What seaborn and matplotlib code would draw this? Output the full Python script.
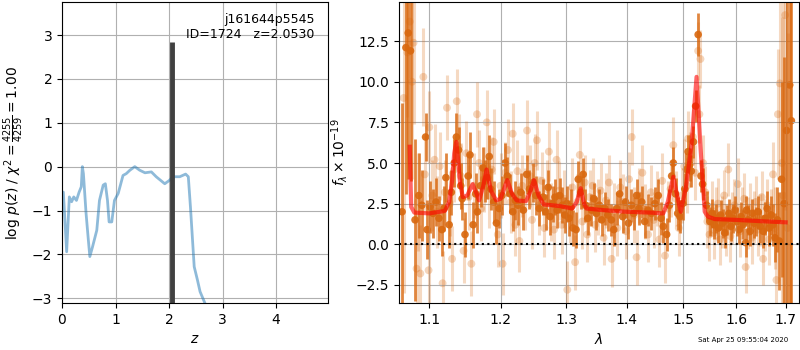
import numpy as np
import pandas as pd
import matplotlib
matplotlib.use("Agg")
import matplotlib.pyplot as plt
from matplotlib.ticker import NullLocator
import seaborn as sns

# p(z) curve
pz_z = [0.0, 0.025, 0.087, 0.137, 0.18, 0.22, 0.27, 0.32, 0.36, 0.38, 0.40, 0.45, 0.49,
        0.52, 0.57, 0.65, 0.70, 0.77, 0.81, 0.85, 0.88, 0.93, 0.98, 1.05, 1.14, 1.20,
        1.27, 1.36, 1.45, 1.55, 1.67, 1.76, 1.92, 2.01, 2.07, 2.20, 2.31, 2.36, 2.40,
        2.47, 2.53, 2.58, 2.67]
pz_logp = [-0.6, -0.58, -1.94, -0.69, -0.8, -0.69, -0.77, -0.58, -0.46, 0.0, -0.16, -1.07,
           -1.64, -2.05, -1.83, -1.45, -0.77, -0.42, -0.39, -0.77, -1.26, -1.26, -0.77,
           -0.61, -0.2, -0.16, -0.08, 0.0, -0.08, -0.14, -0.12, -0.23, -0.39, -0.31, -0.23,
           -0.23, -0.17, -0.23, -0.92, -2.28, -2.58, -2.85, -3.11]
z_best = 2.0530
chi2_label = r"log $p(z)$ / $\chi^2=\frac{4255}{4259}=1.00$"
title_text = "j161644p5545\nID=1724   z=2.0530"

# model spectrum
model_wave = [1.074, 1.0759, 1.080, 1.100, 1.121, 1.127, 1.131, 1.134, 1.1368, 1.139, 1.142,
              1.146, 1.152, 1.1598, 1.169, 1.175, 1.1797, 1.186, 1.1936, 1.200, 1.2099,
              1.217, 1.224, 1.238, 1.244, 1.250, 1.257, 1.265, 1.290, 1.310, 1.317, 1.3234,
              1.329, 1.333, 1.360, 1.400, 1.440, 1.464, 1.472, 1.482, 1.489, 1.4955, 1.505,
              1.515, 1.5247, 1.532, 1.540, 1.546, 1.559, 1.600, 1.650, 1.700]
model_flux = [6.0, 2.3, 1.95, 1.9, 2.05, 2.6, 3.9, 5.6, 6.3, 5.4, 3.8,
              2.9, 3.0, 3.7, 2.7, 3.6, 4.6, 3.3, 2.7, 2.8, 3.95,
              3.1, 2.7, 2.65, 3.2, 3.95, 3.0, 2.45, 2.35, 2.2, 2.6, 3.45,
              2.5, 2.2, 2.1, 2.0, 1.95, 1.9, 2.6, 4.15, 3.0, 2.0, 3.5,
              6.0, 10.3, 6.0, 2.0, 1.7, 1.55, 1.5, 1.42, 1.35]

# spectrum, higher weight points (rows of 11)
wave_dark = [1.064, 1.069, 1.072, 1.075, 1.081, 1.086, 1.090, 1.095, 1.097, 1.101, 1.105,
             1.109, 1.113, 1.117, 1.120, 1.1225, 1.127, 1.130, 1.134, 1.137, 1.140, 1.143,
             1.145, 1.149, 1.1535, 1.156, 1.1605, 1.164, 1.1666, 1.171, 1.1745, 1.178, 1.181,
             1.1836, 1.1856, 1.190, 1.194, 1.198, 1.202, 1.2065, 1.210, 1.214, 1.218, 1.222,
             1.226, 1.230, 1.234, 1.239, 1.243, 1.249, 1.253, 1.258, 1.264, 1.268, 1.272,
             1.275, 1.279, 1.2825, 1.286, 1.290, 1.294, 1.298, 1.301, 1.305, 1.308, 1.311,
             1.316, 1.3195, 1.3235, 1.3275, 1.331, 1.335, 1.341, 1.345, 1.349, 1.354, 1.358,
             1.363, 1.368, 1.374, 1.378, 1.383, 1.388, 1.393, 1.398, 1.403, 1.408, 1.412,
             1.417, 1.421, 1.426, 1.431, 1.437, 1.443, 1.449, 1.455, 1.460, 1.464, 1.470,
             1.475, 1.479, 1.482, 1.486, 1.490, 1.494, 1.499, 1.503, 1.506, 1.509, 1.512,
             1.515, 1.519, 1.523, 1.5277, 1.533, 1.536, 1.5435, 1.5496, 1.554, 1.558, 1.562,
             1.566, 1.570, 1.574, 1.578, 1.582, 1.586, 1.590, 1.594, 1.598, 1.602, 1.606,
             1.610, 1.614, 1.619, 1.6206, 1.624, 1.628, 1.632, 1.636, 1.640, 1.644, 1.648,
             1.654, 1.658, 1.662, 1.666, 1.670, 1.674, 1.678, 1.683, 1.687, 1.6916, 1.697,
             1.702, 1.7085, 1.712]
flux_dark = [2.0, 12.1, 13.0, 11.9, 1.5, 3.0, 2.4, 6.6, 0.9, 2.3, 1.9,
             2.6, 1.6, 0.9, 2.2, 4.1, 1.2, 3.2, 5.0, 6.6, 5.8, 3.6,
             2.8, 0.6, 4.2, 5.5, 1.2, 3.1, 2.0, 3.6, 4.7, 3.9, 4.1,
             5.4, 3.4, 2.6, 1.3, 2.2, 3.0, 5.0, 4.2, 3.1, 2.0, 2.7,
             2.4, 3.2, 2.1, 4.3, 3.4, 3.8, 3.0, 2.2, 2.9, 2.0, 3.5,
             1.7, 2.5, 2.9, 2.1, 3.0, 2.4, 1.8, 2.5, 1.6, 2.3, 1.0,
             0.9, 4.0, 3.2, 4.3, 2.4, 1.6, 2.1, 2.8, 1.9, 2.4, 1.5,
             2.2, 1.8, 1.5, 0.9, 2.2, 3.1, 1.7, 2.6, 1.3, 2.4, 1.9,
             3.0, 2.2, 2.6, 1.4, 2.1, 1.9, 2.5, 3.0, 1.6, 1.1, 0.6,
             2.4, 4.2, 5.0, 3.1, 1.9, 1.7, 2.5, 3.4, 4.6, 5.7, 4.9,
             4.5, 6.3, 8.5, 12.9, 4.2, 3.7, 2.4, 1.4, 1.9, 1.2, 1.6,
             1.0, 1.8, 1.3, 0.7, 1.5, 1.9, 1.1, 1.6, 2.1, 1.4, 0.9,
             1.7, 1.2, 0.1, 2.1, 1.5, 0.8, 1.9, 1.3, 1.4, 2.0, 1.1,
             0.8, 1.6, 2.2, 1.0, 1.8, 1.2, 0.4, 1.5, 0.2, 4.0, 2.5,
             7.0, 9.8, 7.6]
err_dark = [6.7, 9.0, 9.0, 8.0, 5.0, 2.6, 2.2, 1.5, 1.8, 1.6, 1.5,
            1.5, 1.4, 1.6, 1.4, 1.5, 1.4, 1.4, 1.5, 1.5, 1.4, 1.4,
            1.3, 1.4, 1.4, 1.4, 1.4, 1.3, 1.3, 1.3, 1.3, 1.3, 1.3,
            1.3, 1.3, 1.3, 1.3, 1.2, 1.2, 1.2, 1.2, 1.2, 1.2, 1.2,
            1.2, 1.2, 1.2, 1.2, 1.2, 1.2, 1.2, 1.1, 1.1, 1.1, 1.1,
            1.1, 1.1, 1.1, 1.1, 1.1, 1.1, 1.1, 1.1, 1.1, 1.1, 1.1,
            1.1, 1.1, 1.0, 1.0, 1.0, 1.0, 1.0, 1.0, 1.0, 1.0, 1.0,
            1.0, 1.0, 1.0, 1.0, 1.0, 1.0, 1.0, 1.0, 1.0, 1.0, 1.0,
            1.0, 1.0, 1.0, 1.0, 1.0, 1.0, 1.0, 1.0, 1.0, 1.0, 1.0,
            1.0, 1.0, 1.0, 1.0, 1.0, 1.0, 1.0, 1.0, 1.0, 1.0, 1.0,
            1.0, 1.0, 1.0, 1.3, 1.0, 1.0, 0.9, 0.9, 0.9, 0.9, 0.9,
            0.9, 0.9, 0.9, 0.9, 0.9, 0.9, 0.9, 0.9, 0.9, 0.9, 0.9,
            0.9, 0.9, 0.9, 0.9, 0.9, 0.9, 0.9, 0.9, 0.9, 1.0, 1.0,
            1.0, 1.0, 1.1, 1.1, 1.2, 1.3, 1.5, 2.0, 3.0, 6.0, 9.0,
            14.0, 14.0, 12.0]

# spectrum, lower weight points (rows of 11)
wave_light = [1.066, 1.071, 1.074, 1.077, 1.079, 1.083, 1.085, 1.088, 1.092, 1.094, 1.099,
              1.100, 1.104, 1.107, 1.111, 1.114, 1.118, 1.121, 1.124, 1.128, 1.131, 1.134,
              1.1375, 1.140, 1.143, 1.147, 1.151, 1.154, 1.158, 1.162, 1.166, 1.169, 1.172,
              1.176, 1.180, 1.183, 1.187, 1.190, 1.196, 1.200, 1.203, 1.207, 1.211, 1.215,
              1.218, 1.222, 1.225, 1.228, 1.232, 1.236, 1.2395, 1.244, 1.247, 1.251, 1.2545,
              1.258, 1.262, 1.266, 1.270, 1.273, 1.277, 1.281, 1.285, 1.289, 1.293, 1.297,
              1.302, 1.306, 1.310, 1.3145, 1.318, 1.322, 1.326, 1.330, 1.334, 1.338, 1.343,
              1.347, 1.351, 1.356, 1.361, 1.365, 1.370, 1.3745, 1.379, 1.384, 1.389, 1.394,
              1.399, 1.404, 1.4085, 1.413, 1.417, 1.422, 1.427, 1.432, 1.437, 1.442, 1.447,
              1.452, 1.457, 1.462, 1.467, 1.472, 1.477, 1.482, 1.487, 1.492, 1.497, 1.502,
              1.507, 1.509, 1.513, 1.518, 1.522, 1.5277, 1.530, 1.532, 1.537, 1.541, 1.545,
              1.549, 1.553, 1.557, 1.561, 1.565, 1.569, 1.573, 1.577, 1.581, 1.585, 1.589,
              1.593, 1.597, 1.6035, 1.608, 1.612, 1.616, 1.619, 1.623, 1.627, 1.631, 1.635,
              1.639, 1.643, 1.647, 1.651, 1.654, 1.658, 1.662, 1.666, 1.670, 1.674, 1.678,
              1.681, 1.684, 1.688, 1.692, 1.695, 1.699, 1.704]
flux_light = [9.0, 11.8, 13.7, 10.0, 12.4, -1.5, 2.6, -1.8, 10.3, 4.3, -1.6,
              7.2, 3.0, 5.2, 2.0, 4.8, -2.4, 3.2, 8.4, 2.5, -0.9, 4.6,
              8.8, 6.0, 4.2, -0.4, 5.6, 2.9, -1.2, 3.6, 8.0, 5.0, 2.2,
              4.0, 7.5, 3.0, 4.6, 6.3, 0.6, 3.6, -1.2, 4.4, 5.8, 2.6,
              6.8, 1.2, 4.5, 0.2, 3.6, 2.8, 7.0, 4.2, 1.5, 5.0, 6.4,
              2.4, 3.9, 1.0, 3.4, 5.7, 2.0, 0.9, 5.2, 3.3, 1.2, 2.8,
              -2.8, 1.9, 3.5, -1.1, 2.6, 5.5, 1.4, 3.8, 0.6, 2.9, 3.6,
              1.2, 2.3, 3.3, 0.4, 2.7, 3.8, -0.9, 2.1, 1.0, 3.5, 2.6,
              0.8, 4.0, 6.6, 1.8, -0.8, 3.0, 4.4, 2.0, 0.6, 3.2, 1.5,
              2.8, 0.3, 3.9, -0.7, 2.2, 3.4, 6.1, 2.8, 1.0, 3.0, 4.8,
              3.6, 6.5, 5.2, 6.6, 4.4, 11.9, 8.0, 11.4, 5.0, 3.2, 1.4,
              0.6, 2.3, 0.7, 1.9, 2.5, 0.3, 1.4, 3.0, 0.9, 4.6, 0.5,
              1.6, 2.4, 3.7, 0.8, 1.9, 2.8, -1.4, 1.3, 2.2, 0.4, 1.7,
              2.6, 0.9, 1.5, 2.9, -0.9, 1.2, 2.4, 0.3, 1.8, 4.3, 1.0,
              -2.2, 8.0, 9.9, 5.0, 3.0, 14.1, 1.0]
err_light = [12.0, 4.0, 3.5, 6.0, 5.0, 4.0, 3.0, 3.0, 3.0, 2.4, 2.5,
             2.2, 2.2, 2.2, 2.2, 2.1, 2.0, 2.0, 2.0, 2.0, 2.0, 2.0,
             2.0, 2.0, 2.0, 2.0, 2.0, 2.0, 2.0, 2.0, 2.0, 2.0, 2.0,
             2.0, 2.0, 2.0, 2.0, 2.0, 2.0, 2.0, 1.9, 1.9, 1.9, 1.9,
             1.9, 1.9, 1.9, 1.9, 1.9, 1.9, 1.9, 1.9, 1.8, 1.8, 1.8,
             1.8, 1.8, 1.8, 1.8, 1.8, 1.8, 1.8, 1.8, 1.8, 1.8, 1.8,
             1.8, 1.8, 1.8, 1.7, 1.7, 1.7, 1.7, 1.7, 1.7, 1.7, 1.7,
             1.7, 1.7, 1.7, 1.7, 1.7, 1.7, 1.7, 1.7, 1.7, 1.7, 1.7,
             1.7, 1.7, 1.7, 1.7, 1.7, 1.7, 1.7, 1.7, 1.7, 1.7, 1.7,
             1.7, 1.7, 1.7, 1.7, 1.7, 1.7, 1.7, 1.7, 1.7, 1.7, 1.7,
             1.7, 1.7, 1.7, 1.7, 1.7, 1.8, 1.8, 1.8, 1.7, 1.6, 1.6,
             1.6, 1.6, 1.6, 1.6, 1.6, 1.6, 1.6, 1.6, 1.6, 1.6, 1.6,
             1.6, 1.6, 1.6, 1.6, 1.6, 1.6, 1.6, 1.6, 1.6, 1.6, 1.6,
             1.6, 1.6, 1.6, 1.6, 1.6, 1.6, 1.6, 1.6, 1.6, 2.0, 2.5,
             3.0, 4.0, 6.0, 9.0, 12.0, 12.0, 12.0]

wave_ticks = [1.1, 1.2, 1.3, 1.4, 1.5, 1.6, 1.7]
stamp = "Sat Apr 25 09:55:04 2020"

orange = '#d9680f'

fig = plt.figure(figsize=(8, 3.5), dpi=100)
ax1 = fig.add_axes([0.0775, 0.134, 0.3325, 0.86])
ax2 = fig.add_axes([0.49875, 0.134, 0.5, 0.86])

# left panel: p(z)
pz = pd.DataFrame({'z': pz_z, 'logp': pz_logp})
sns.lineplot(data=pz, x='z', y='logp', ax=ax1, color='tab:blue', alpha=0.5, lw=2, sort=False)
ax1.vlines(z_best, -3.2, 2.85, color='0.25', lw=3.5)
ax1.set_xlim(0, 4.97)
ax1.set_ylim(-3.11, 3.75)
ax1.set_xticks([0, 1, 2, 3, 4])
ax1.set_yticks([-3, -2, -1, 0, 1, 2, 3])
ax1.grid(True)
ax1.set_xlabel('$z$')
ax1.set_ylabel(chi2_label)
ax1.text(0.95, 0.965, title_text, transform=ax1.transAxes, ha='right', va='top',
         fontsize=9, multialignment='right')

# right panel: spectrum
light = pd.DataFrame({'wave': wave_light, 'flux': flux_light, 'err': err_light})
dark = pd.DataFrame({'wave': wave_dark, 'flux': flux_dark, 'err': err_dark})
model = pd.DataFrame({'wave': model_wave, 'flux': model_flux})

ax2.errorbar(light['wave'], light['flux'], yerr=light['err'], fmt='none',
             ecolor=orange, alpha=0.25, elinewidth=2.2)
sns.scatterplot(data=light, x='wave', y='flux', ax=ax2, color=orange, alpha=0.28,
                s=32, edgecolor='none')
ax2.errorbar(dark['wave'], dark['flux'], yerr=dark['err'], fmt='none',
             ecolor=orange, alpha=0.8, elinewidth=2.0)
sns.scatterplot(data=dark, x='wave', y='flux', ax=ax2, color=orange, alpha=0.9,
                s=30, edgecolor='none')
sns.lineplot(data=model, x='wave', y='flux', ax=ax2, color='red', alpha=0.6, lw=3,
             sort=False)
ax2.axhline(0, color='k', ls=':', lw=1.5)

ax2.set_xscale('log')
ax2.set_xticks(wave_ticks)
ax2.set_xticklabels([f'{t:.1f}' for t in wave_ticks])
ax2.xaxis.set_minor_locator(NullLocator())
ax2.set_xlim(1.060, 1.728)
ax2.set_ylim(-3.62, 14.9)
ax2.set_yticks([-2.5, 0.0, 2.5, 5.0, 7.5, 10.0, 12.5])
ax2.grid(True)
ax2.set_xlabel(r'$\lambda$')
ax2.set_ylabel(r'$f_\lambda \times 10^{-19}$')

fig.text(0.985, 0.029, stamp, ha='right', va='center', fontsize=5)

fig.savefig('out.png', dpi=100)
